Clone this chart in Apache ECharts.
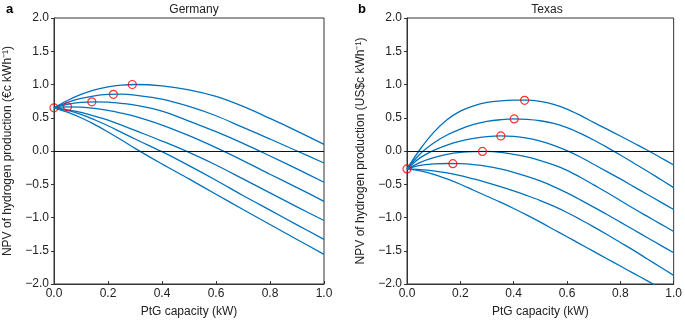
<!DOCTYPE html>
<html>
<head>
<meta charset="utf-8">
<script src="https://cdn.jsdelivr.net/npm/echarts@6/dist/echarts.min.js"></script>
<style>
  html, body { margin: 0; padding: 0; background: #fff; }
  #chart { width: 685px; height: 323px; }
</style>
</head>
<body>
<div id="chart"></div>
<script>
// PtG capacity (kW) sample points
const germanyX = [0, 0.05, 0.1, 0.15, 0.2, 0.25, 0.3, 0.4, 0.5, 0.6, 0.7, 0.8, 0.9, 1.0];
const texasX = [0, 0.05, 0.1, 0.15, 0.2, 0.25, 0.3, 0.35, 0.4, 0.45, 0.5,
                0.55, 0.6, 0.65, 0.7, 0.75, 0.8, 0.85, 0.9, 0.95, 1.0];

// NPV curves, Germany (€c/kWh)
const germany1 = [0.65, 0.76, 0.85, 0.92, 0.965, 0.99, 1.0, 0.98, 0.92, 0.82, 0.67, 0.49, 0.30, 0.10];
const germany2 = [0.65, 0.73, 0.79, 0.83, 0.85, 0.855, 0.84, 0.78, 0.67, 0.53, 0.355, 0.18, 0.0, -0.18];
const germany3 = [0.65, 0.70, 0.73, 0.74, 0.735, 0.716, 0.69, 0.60, 0.45, 0.29, 0.115, -0.075, -0.27, -0.47];
const germany4 = [0.65, 0.665, 0.66, 0.64, 0.61, 0.568, 0.52, 0.39, 0.23, 0.05, -0.145, -0.35, -0.55, -0.757];
const germany5 = [0.65, 0.62, 0.58, 0.525, 0.465, 0.39, 0.31, 0.15, -0.02, -0.21, -0.42, -0.63, -0.84, -1.045];
const germany6 = [0.65, 0.61, 0.55, 0.47, 0.38, 0.28, 0.18, -0.01, -0.22, -0.44, -0.67, -0.89, -1.11, -1.33];
const germany7 = [0.65, 0.585, 0.50, 0.40, 0.285, 0.165, 0.04, -0.195, -0.42, -0.65, -0.88, -1.105, -1.33, -1.555];

// NPV curves, Texas (US$c/kWh)
const texas1 = [-0.27, 0.03, 0.28, 0.47, 0.6, 0.68, 0.73, 0.755, 0.765, 0.765, 0.745,
                0.70, 0.63, 0.535, 0.43, 0.328, 0.225, 0.12, 0.015, -0.097, -0.21];
const texas2 = [-0.27, -0.04, 0.12, 0.24, 0.33, 0.40, 0.445, 0.47, 0.483, 0.475, 0.455,
                0.415, 0.35, 0.265, 0.165, 0.055, -0.06, -0.18, -0.3, -0.425, -0.55];
const texas3 = [-0.27, -0.1, 0.01, 0.09, 0.15, 0.19, 0.215, 0.226, 0.22, 0.195, 0.15,
                0.085, 0.005, -0.09, -0.2, -0.31, -0.42, -0.535, -0.65, -0.765, -0.88];
const texas4 = [-0.27, -0.17, -0.1, -0.05, -0.02, -0.008, -0.007, -0.02, -0.05, -0.09, -0.145,
                -0.21, -0.29, -0.395, -0.51, -0.625, -0.745, -0.865, -0.98, -1.095, -1.21];
const texas5 = [-0.27, -0.215, -0.195, -0.188, -0.19, -0.205, -0.23, -0.27, -0.32, -0.38, -0.45,
                -0.535, -0.63, -0.735, -0.845, -0.955, -1.07, -1.185, -1.3, -1.415, -1.53];
const texas6 = [-0.27, -0.28, -0.3, -0.33, -0.37, -0.42, -0.475, -0.535, -0.6, -0.67, -0.745,
                -0.83, -0.925, -1.03, -1.14, -1.255, -1.375, -1.495, -1.62, -1.745, -1.87];
const texas7 = [-0.27, -0.3, -0.35, -0.42, -0.5, -0.59, -0.68, -0.77, -0.865, -0.965, -1.07,
                -1.18, -1.29, -1.4, -1.51, -1.62, -1.73, -1.84, -1.95, -2.06, -2.17];

// optimum points (red circles)
const germanyOptX = [0, 0.05, 0.14, 0.22, 0.29];
const germanyOptY = [0.65, 0.665, 0.74, 0.852, 1.0];
const texasOptX = [0, 0.172, 0.283, 0.352, 0.402, 0.441];
const texasOptY = [-0.27, -0.19, -0.007, 0.226, 0.483, 0.762];

const yTicks = [-2.0, -1.5, -1.0, -0.5, 0.0, 0.5, 1.0, 1.5, 2.0];

const germanyCurves = [germany1, germany2, germany3, germany4, germany5, germany6, germany7];
const texasCurves = [texas1, texas2, texas3, texas4, texas5, texas6, texas7];

const FONT = 'Liberation Sans';
const BLUE = '#0072BD';
const AXIS = '#333';

function fmt(v) {
    const s = Math.abs(v).toFixed(1);
    return v < 0 ? '\u2212' + s : s;
}

function zip(xs, ys) {
    return xs.map((x, i) => [x, ys[i]]);
}

function makeX(idx) {
    return {
        type: 'value', gridIndex: idx, min: 0, max: 1, interval: 0.2,
        name: 'PtG capacity (kW)', nameLocation: 'middle', nameGap: 22,
        nameTextStyle: { fontFamily: FONT, fontSize: 12, color: '#222' },
        axisLine: { show: true, onZero: false, lineStyle: { color: AXIS, width: 1 } },
        axisTick: { show: true, inside: true, length: 3, lineStyle: { color: AXIS } },
        axisLabel: { formatter: fmt, fontFamily: FONT, fontSize: 12, color: '#222', margin: 4 },
        splitLine: { show: false }
    };
}

function makeY(idx, name) {
    return {
        type: 'value', gridIndex: idx, min: -2, max: 2, interval: 0.5,
        name: name, nameLocation: 'middle', nameGap: 40,
        nameTextStyle: { fontFamily: FONT, fontSize: 12, color: '#222' },
        axisLine: { show: true, onZero: false, lineStyle: { color: AXIS, width: 1 } },
        axisTick: { show: true, inside: false, length: 3, lineStyle: { color: AXIS } },
        axisLabel: {
            fontFamily: FONT, fontSize: 12, color: '#222', margin: 5,
            formatter: v => yTicks.includes(v) ? fmt(v) : ''
        },
        splitLine: { show: false }
    };
}

function curveSeries(idx, xs, curves) {
    return curves.map((ys, i) => {
        const s = {
            type: 'line', xAxisIndex: idx, yAxisIndex: idx,
            data: zip(xs, ys), showSymbol: false, smooth: 0.35,
            clip: true, z: 2,
            lineStyle: { color: BLUE, width: 1.3 }
        };
        if (i === 0) {
            s.markLine = {
                silent: true, symbol: 'none', label: { show: false },
                lineStyle: { color: '#111', width: 1, type: 'solid' },
                data: [{ yAxis: 0 }]
            };
        }
        return s;
    });
}

function optSeries(idx, xs, ys) {
    return {
        type: 'scatter', xAxisIndex: idx, yAxisIndex: idx,
        data: zip(xs, ys), symbol: 'circle', symbolSize: 8, z: 5,
        itemStyle: { color: 'rgba(255,255,255,0)', borderColor: '#ff0000', borderWidth: 1.2 }
    };
}

const chart = echarts.init(document.getElementById('chart'));

const option = {
    animation: false,
    backgroundColor: '#fff',
    title: [
        { text: 'Germany', left: 189, top: -1, textAlign: 'center',
          textStyle: { fontFamily: FONT, fontSize: 12, fontWeight: 'normal', color: '#222' } },
        { text: 'Texas', left: 542, top: -1, textAlign: 'center',
          textStyle: { fontFamily: FONT, fontSize: 12, fontWeight: 'normal', color: '#222' } },
        { text: 'a', left: 1, top: -2,
          textStyle: { fontFamily: FONT, fontSize: 13, fontWeight: 'bold', color: '#000' } },
        { text: 'b', left: 353, top: -2,
          textStyle: { fontFamily: FONT, fontSize: 13, fontWeight: 'bold', color: '#000' } }
    ],
    grid: [
        { left: 54, top: 18, width: 270, height: 269, show: true, borderColor: AXIS, borderWidth: 1, backgroundColor: 'transparent' },
        { left: 407, top: 18, width: 270, height: 269, show: true, borderColor: AXIS, borderWidth: 1, backgroundColor: 'transparent' }
    ],
    xAxis: [makeX(0), makeX(1)],
    yAxis: [
        makeY(0, 'NPV of hydrogen production (\u20acc kWh\u207b\u00b9)'),
        makeY(1, 'NPV of hydrogen production (US$c kWh\u207b\u00b9)')
    ],
    series: [
        ...curveSeries(0, germanyX, germanyCurves),
        ...curveSeries(1, texasX, texasCurves),
        optSeries(0, germanyOptX, germanyOptY),
        optSeries(1, texasOptX, texasOptY)
    ]
};

chart.setOption(option);
</script>
</body>
</html>
